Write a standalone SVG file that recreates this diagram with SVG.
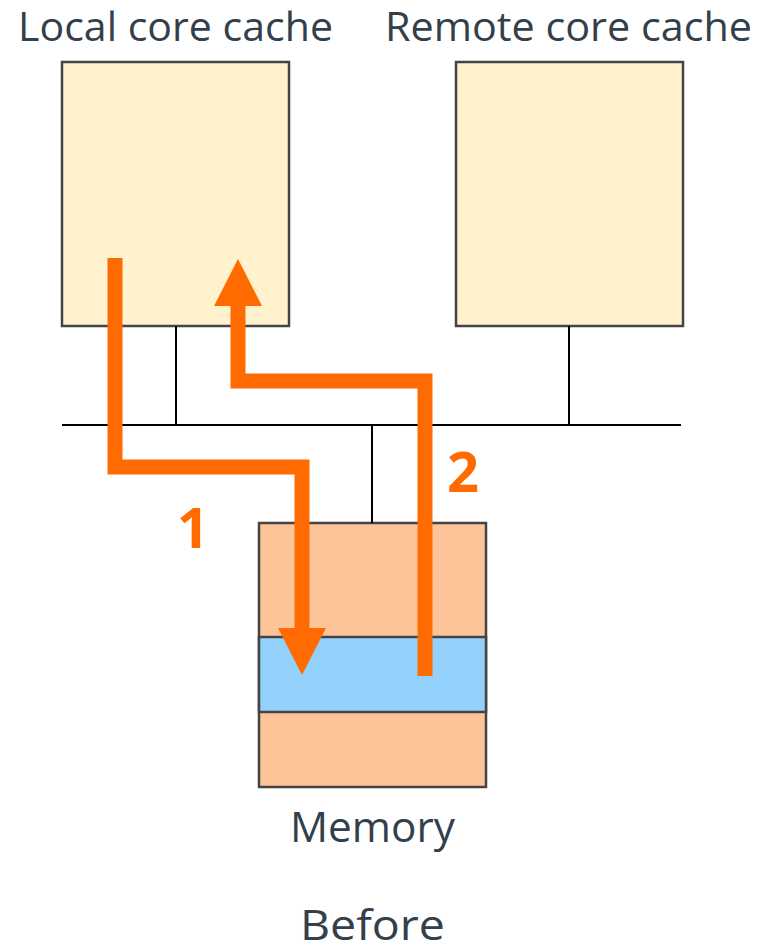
<svg xmlns="http://www.w3.org/2000/svg" width="758" height="950" viewBox="0 0 758 950">
<style>
.lbl{font-family:"Open Sans","Liberation Sans",sans-serif;font-size:42px;fill:#333f4b;text-anchor:middle}
.top{font-size:40px}
.cache{fill:#fff2cc;stroke:#444;stroke-width:2.5}
.mem{fill:#fec499;stroke:#444;stroke-width:2.5}
.band{fill:#93d1fc;stroke:#444;stroke-width:2.5}
.wire{stroke:#000;stroke-width:2;fill:none}
.flow{stroke:#ff6b00;stroke-width:15;fill:none;stroke-linejoin:miter}
.head{fill:#ff6b00}
.num{font-family:"Open Sans","Liberation Sans",sans-serif;font-weight:bold;font-size:56px;fill:#ff6b00;text-anchor:middle}
</style>
<rect width="758" height="950" fill="#fff"/>
<g id="local-cache">
<rect class="cache" x="62" y="62" width="227" height="264"/>
<text class="lbl top" x="175.5" y="41" textLength="315" lengthAdjust="spacingAndGlyphs">Local core cache</text>
</g>
<g id="remote-cache">
<rect class="cache" x="456" y="62" width="227" height="264"/>
<text class="lbl top" x="568.5" y="41" textLength="367" lengthAdjust="spacingAndGlyphs">Remote core cache</text>
</g>
<g id="memory">
<rect class="mem" x="259" y="523" width="227" height="264"/>
<rect class="band" x="259" y="637" width="227" height="75"/>
<text class="lbl" x="372.5" y="842" textLength="165" lengthAdjust="spacingAndGlyphs">Memory</text>
</g>
<g id="bus">
<line class="wire" x1="62" y1="425" x2="681" y2="425"/>
<line class="wire" x1="176" y1="326" x2="176" y2="425"/>
<line class="wire" x1="569" y1="326" x2="569" y2="425"/>
<line class="wire" x1="372" y1="425" x2="372" y2="523"/>
</g>
<g id="connectors">
<polyline class="flow" points="115,258 115,467 302,467 302,630"/>
<polygon class="head" points="278,628 326,628 302,675"/>
<polyline class="flow" points="425,676 425,381 238,381 238,304"/>
<polygon class="head" points="214,306 262,306 238,259"/>
<text class="num" x="193" y="548">1</text>
<text class="num" x="463" y="492">2</text>
</g>
<text class="lbl" x="372.5" y="940" textLength="145" lengthAdjust="spacingAndGlyphs">Before</text>
</svg>
